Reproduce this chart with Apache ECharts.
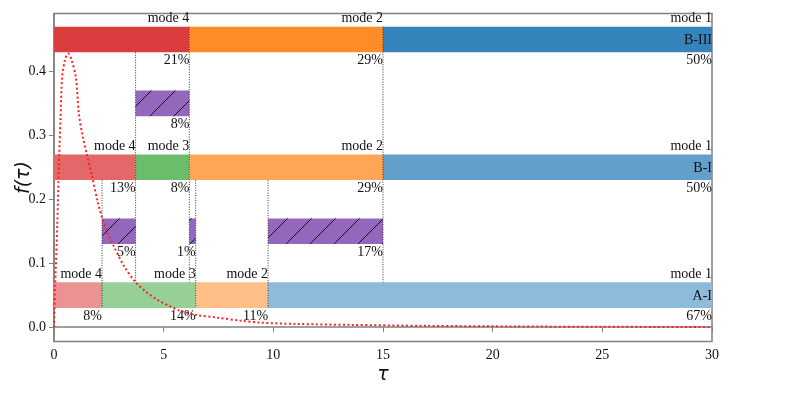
<!DOCTYPE html>
<html>
<head>
<meta charset="utf-8">
<script src="https://cdn.jsdelivr.net/npm/echarts@6/dist/echarts.min.js"></script>
<style>
  html, body { margin: 0; padding: 0; background: #fff; }
  #chart { width: 789px; height: 397px; }
</style>
</head>
<body>
<div id="chart"></div>
<script>
// rows of mode segments (bottom to top)
const rowNames = ['A-I', 'B-I', 'B-III'];
const rowLevels = [0.05, 0.25, 0.45];
const rowEdges = [
  [0, 2.19, 6.46, 9.76, 30],
  [0, 3.72, 6.17, 15.0, 30],
  [0, 6.17, 15.0, 30]
];
const rowModes = [[4, 3, 2, 1], [4, 3, 2, 1], [4, 2, 1]];
const rowShares = [[8, 14, 11, 67], [13, 8, 29, 50], [21, 29, 50]];

// hatched transition boxes
const hatchLevels = [0.15, 0.15, 0.15, 0.35];
const hatchStarts = [2.19, 6.17, 9.76, 3.72];
const hatchEnds = [3.72, 6.46, 15.0, 6.17];
const hatchShares = [5, 1, 17, 8];

// dotted guide lines
const guideX = [6.17, 15.0, 3.72, 2.19, 6.46, 9.76];
const guideTop = [0.47, 0.47, 0.43, 0.23, 0.23, 0.23];
const guideBottom = [0.07, 0.07, 0.07, 0.03, 0.03, 0.03];

// f(tau) curve
const tau = [0, 0.05, 0.15, 0.22, 0.3, 0.37, 0.5, 0.65, 0.8, 1.0, 1.13, 1.3, 1.5, 1.74, 2.0, 2.2, 2.5, 2.75,
  3.2, 3.7, 4.2, 4.7, 5.2, 5.8, 6.5, 7.4, 8.5, 9.4, 11, 13.5, 17, 21, 25, 30];
const pdf = [0, 0.06, 0.16, 0.25, 0.33, 0.39, 0.418, 0.428, 0.418, 0.39, 0.335, 0.30, 0.27, 0.235, 0.195, 0.17,
  0.142, 0.125, 0.095, 0.071, 0.055, 0.043, 0.034, 0.025, 0.019, 0.015, 0.010, 0.007, 0.005, 0.0035, 0.002, 0.001, 0.0005, 0.0002];

const yTicks = [0, 0.1, 0.2, 0.3, 0.4];

const modeColors = { 4: [214, 39, 40], 3: [44, 160, 44], 2: [255, 127, 14], 1: [31, 119, 180] };
const rowAlpha = [0.5, 0.7, 0.9];
const FONT = '14px "Liberation Serif", "Times New Roman", serif';
const HALF = 0.02;

const mix = (c, a) => 'rgb(' + c.map(v => Math.round(v * a + 255 * (1 - a))).join(',') + ')';

const segData = [];
rowEdges.forEach((edges, r) => {
  for (let i = 0; i < edges.length - 1; i++) {
    segData.push([edges[i], edges[i + 1], rowLevels[r], r, rowModes[r][i], rowShares[r][i], i === edges.length - 2 ? 1 : 0]);
  }
});
const hatchData = hatchStarts.map((s, i) => [s, hatchEnds[i], hatchLevels[i], hatchShares[i]]);
const guideData = guideX.map((x, i) => [x, guideTop[i], guideBottom[i]]);

function renderSeg(params, api) {
  const s = api.value(0), e = api.value(1), lv = api.value(2);
  const r = api.value(3), mode = api.value(4), share = api.value(5), last = api.value(6);
  const p0 = api.coord([s, lv + HALF]);
  const p1 = api.coord([e, lv - HALF]);
  const children = [
    { type: 'rect', shape: { x: p0[0], y: p0[1], width: p1[0] - p0[0], height: p1[1] - p0[1] },
      style: { fill: mix(modeColors[mode], rowAlpha[r]) } },
    { type: 'text', x: p1[0], y: p0[1] - 1,
      style: { text: 'mode ' + mode, font: FONT, fill: '#111', align: 'right', verticalAlign: 'bottom' } },
    { type: 'text', x: p1[0], y: p1[1] + 1,
      style: { text: share + '%', font: FONT, fill: '#111', align: 'right', verticalAlign: 'top' } }
  ];
  if (last) {
    children.push({ type: 'text', x: p1[0], y: (p0[1] + p1[1]) / 2 + 1,
      style: { text: rowNames[r], font: FONT, fill: '#111', align: 'right', verticalAlign: 'middle' } });
  }
  return { type: 'group', children: children };
}

function renderHatch(params, api) {
  const p0 = api.coord([api.value(0), api.value(2) + HALF]);
  const p1 = api.coord([api.value(1), api.value(2) - HALF]);
  const x0 = p0[0], x1 = p1[0], y0 = p0[1], y1 = p1[1];
  const children = [
    { type: 'rect', shape: { x: x0, y: y0, width: x1 - x0, height: y1 - y0 }, style: { fill: '#9467bd' } }
  ];
  const step = 24, off = 2;
  const cStart = Math.floor((x0 + y0) / step) * step + off - step;
  for (let c = cStart; c < x1 + y1 + step; c += step) {
    const xa = Math.max(x0, c - y1), xb = Math.min(x1, c - y0);
    if (xa < xb) {
      children.push({ type: 'line', shape: { x1: xa, y1: c - xa, x2: xb, y2: c - xb },
        style: { stroke: '#111', lineWidth: 1 } });
    }
  }
  children.push({ type: 'text', x: x1, y: y1 + 1,
    style: { text: api.value(3) + '%', font: FONT, fill: '#111', align: 'right', verticalAlign: 'top' } });
  return { type: 'group', children: children };
}

function renderGuide(params, api) {
  const p0 = api.coord([api.value(0), api.value(1)]);
  const p1 = api.coord([api.value(0), api.value(2)]);
  return { type: 'line', shape: { x1: p0[0], y1: p0[1], x2: p1[0], y2: p1[1] },
    style: { stroke: '#333', lineWidth: 1, lineDash: [1, 1.5] } };
}

const chart = echarts.init(document.getElementById('chart'));
chart.setOption({
  animation: false,
  grid: { left: 54, right: 77, top: 13.5, bottom: 55.5, show: true, borderColor: '#808080', borderWidth: 1.5,
    containLabel: false, outerBoundsMode: 'none' },
  xAxis: {
    type: 'value', min: 0, max: 30, interval: 5,
    name: 'τ', nameLocation: 'middle', nameGap: 24, nameMoveOverlap: false,
    nameTextStyle: { fontFamily: 'DejaVu Sans', fontStyle: 'italic', fontSize: 19, color: '#111' },
    axisLine: { lineStyle: { color: '#808080', width: 1.5 } },
    axisTick: { length: 5, lineStyle: { color: '#808080' } },
    axisLabel: { fontFamily: 'Liberation Serif', fontSize: 14, color: '#111', margin: 7 },
    splitLine: { show: false }
  },
  yAxis: {
    type: 'value', min: -0.0225, max: 0.4906,
    name: 'f(τ)', nameLocation: 'middle', nameGap: 20, nameMoveOverlap: false,
    nameTextStyle: { fontFamily: 'DejaVu Sans', fontStyle: 'italic', fontSize: 19, color: '#111' },
    axisLine: { show: true, lineStyle: { color: '#808080', width: 1.5 } },
    axisTick: { show: true, length: 5, customValues: yTicks, lineStyle: { color: '#808080' } },
    axisLabel: { customValues: yTicks, fontFamily: 'Liberation Serif', fontSize: 14, color: '#111', margin: 8,
      formatter: v => v.toFixed(1) },
    splitLine: { show: false }
  },
  series: [
    { type: 'custom', renderItem: renderSeg, data: segData, z: 2, clip: false },
    { type: 'custom', renderItem: renderHatch, data: hatchData, z: 3, clip: false },
    { type: 'custom', renderItem: renderGuide, data: guideData, z: 4 },
    { type: 'line', data: tau.map((t, i) => [t, pdf[i]]), showSymbol: false, smooth: 0.3, z: 5,
      lineStyle: { color: '#ff2020', width: 2, type: [2, 2.5] } }
  ]
});
</script>
</body>
</html>
